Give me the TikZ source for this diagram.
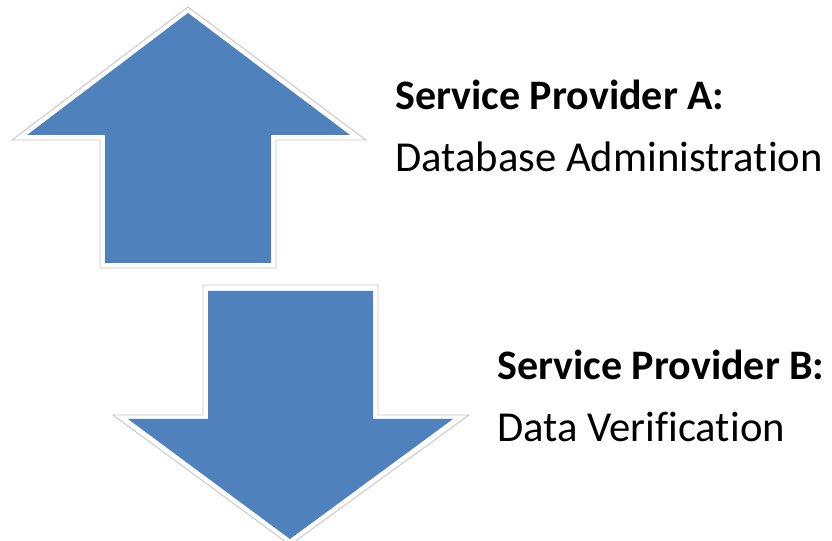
\documentclass[tikz,border=0pt]{standalone}
\usepackage{fontspec}
\setmainfont[Ligatures=NoCommon]{Carlito}
\definecolor{arrowblue}{HTML}{4F81BD}
\definecolor{rimgray}{HTML}{C8C8C8}

\tikzset{
    rim/.style={fill=white, draw=rimgray, line width=0.7pt},
    body/.style={fill=arrowblue},
    heading/.style={anchor=base west, inner sep=0pt, font=\fontsize{31.5}{38}\selectfont\bfseries},
    detail/.style={anchor=base west, inner sep=0pt, font=\fontsize{32}{38}\selectfont}
}

\begin{document}
\begin{tikzpicture}[x=0.75pt, y=-0.75pt]
        \useasboundingbox (0,0) rectangle (832,541);

        % up arrow
        \path[rim]  (188,7) -- (366,140) -- (276,140) -- (276,268)
                    -- (100,268) -- (100,140) -- (12,140) -- cycle;
        \path[body] (188,13) -- (350,135) -- (271,135) -- (271,263)
                    -- (105,263) -- (105,135) -- (27,135) -- cycle;

        % down arrow
        \path[rim]  (203,285) -- (378,285) -- (378,415) -- (469,415)
                    -- (290,545) -- (113,415) -- (203,415) -- cycle;
        \path[body] (208,291) -- (373,291) -- (373,419) -- (453,419)
                    -- (290,539) -- (128,419) -- (208,419) -- cycle;

        \node[heading] (A)  at (395,110) {Service Provider A:};
        \node[detail]  (Ad) at (395,172) {Database Administration};
        \node[heading] (B)  at (497,380) {Service Provider B:};
        \node[detail]  (Bd) at (497,442) {Data Verification};
\end{tikzpicture}
\end{document}
